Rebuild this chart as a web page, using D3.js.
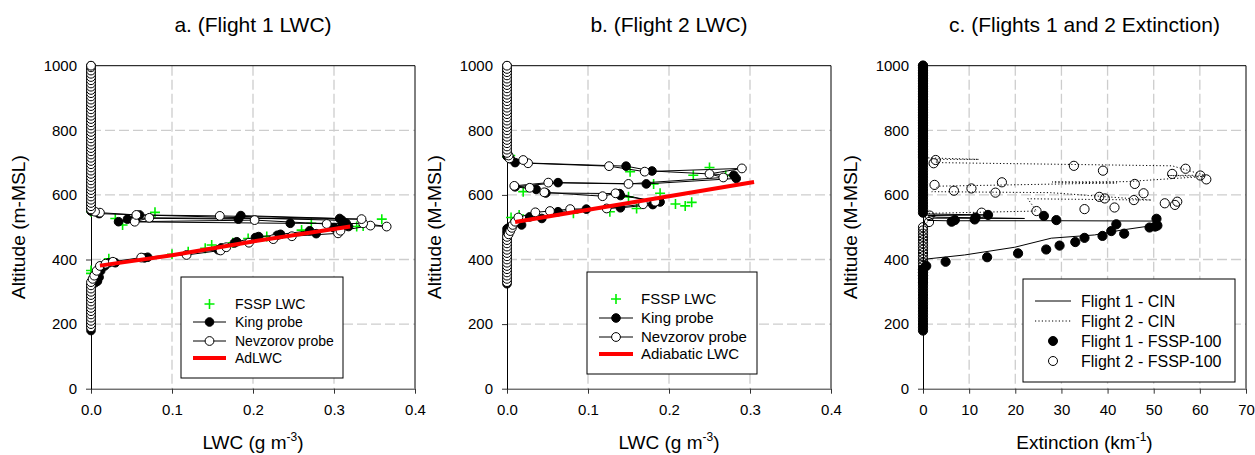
<!DOCTYPE html>
<html><head><meta charset="utf-8">
<script src="https://cdn.jsdelivr.net/npm/d3@7"></script>
<style>
body{margin:0;background:#fff}
svg{display:block}
text{font-family:"Liberation Sans",Arial,Helvetica,sans-serif;fill:#000}
</style>
</head><body>
<svg id="chart" width="1255" height="455"></svg>
<script>
// ---------- tick values ----------
const lwcTicks = [0, 0.1, 0.2, 0.3, 0.4];
const extTicks = [0, 10, 20, 30, 40, 50, 60, 70];
const altTicks = [0, 200, 400, 600, 800, 1000];

// ---------- titles / labels ----------
const titles = ["a. (Flight 1 LWC)", "b. (Flight 2 LWC)", "c. (Flights 1 and 2 Extinction)"];
const yLabels = ["Altitude (m-MSL)", "Altitude (M-MSL)", "Altitude (M-MSL)"];
const legendA = ["FSSP LWC", "King probe", "Nevzorov probe", "AdLWC"];
const legendB = ["FSSP LWC", "King probe", "Nevzorov probe", "Adiabatic LWC"];
const legendC = ["Flight 1 - CIN", "Flight 2 - CIN", "Flight 1 - FSSP-100", "Flight 2 - FSSP-100"];

// ---------- Panel a: Flight 1 LWC  [LWC g/m3, altitude m] ----------
const kingA = [
[0,180],[0,190],[0,200],[0,210],[0,220],[0,230],[0,240],[0,250],[0,260],[0,270],[0,280],[0,290],[0,300],[0,310],[0,320],
[0.005,328],[0.008,333],[0.010,345],[0.012,365],[0.017,380],[0.022,390],[0.030,390],[0.066,405],[0.070,407],
[0.157,430],[0.161,436],[0.177,451],[0.180,455],[0.203,468],[0.207,471],[0.230,475],[0.234,478],[0.270,489],
[0.278,480],[0.300,498],[0.310,505],[0.318,502],
[0.315,512],[0.246,512],[0.034,517],[0.045,525],[0.055,528],[0.182,525],[0.185,536],[0.307,527],[0.310,521],
[0.060,538],[0.010,542],
[0,550],[0,560],[0,570],[0,580],[0,590],[0,600],[0,610],[0,620],[0,630],[0,640],[0,650],[0,660],[0,670],[0,680],
[0,690],[0,700],[0,710],[0,720],[0,730],[0,740],[0,750],[0,760],[0,770],[0,780],[0,790],[0,800],[0,810],[0,820],
[0,830],[0,840],[0,850],[0,860],[0,870],[0,880],[0,890],[0,900],[0,910],[0,920],[0,930],[0,940],[0,950],[0,960],
[0,970],[0,980],[0,990],[0,1000]
];
const nevA = [
[0,190],[0,200],[0,210],[0,220],[0,230],[0,240],[0,250],[0,260],[0,270],[0,280],[0,290],[0,300],[0,310],[0,320],[0,330],
[0.002,340],[0.004,350],[0.007,365],[0.011,380],[0.018,387],[0.027,393],[0.062,406],[0.118,414],[0.160,428],
[0.167,438],[0.195,452],[0.225,463],[0.248,472],[0.305,481],[0.308,489],[0.345,505],[0.365,502],[0.336,512],
[0.291,510],[0.202,522],[0.054,517],[0.072,529],[0.334,525],[0.159,535],[0.056,538],[0.011,545],[0.005,548],
[0,555],[0,565],[0,575],[0,585],[0,595],[0,605],[0,615],[0,625],[0,635],[0,645],[0,655],[0,665],[0,675],[0,685],
[0,695],[0,705],[0,715],[0,725],[0,735],[0,745],[0,755],[0,765],[0,775],[0,785],[0,795],[0,805],[0,815],[0,825],
[0,835],[0,845],[0,855],[0,865],[0,875],[0,885],[0,895],[0,905],[0,915],[0,925],[0,935],[0,945],[0,955],[0,965],
[0,975],[0,985],[0,995],[0,1000]
];
const fsspA = [
[0,357],[0,366],[0.022,402],[0.100,416],[0.120,424],[0.141,435],[0.149,445],[0.175,452],[0.194,465],[0.217,471],
[0.260,491],[0.272,512],[0.328,502],[0.336,504],[0.359,525],[0.030,527],[0.039,507],[0.079,546],[0,548]
];
const adiabA = [[0.011,381],[0.100,413],[0.200,456],[0.320,502]];

// ---------- Panel b: Flight 2 LWC ----------
const kingB = [
[0,325],[0,335],[0,345],[0,355],[0,365],[0,375],[0,385],[0,395],[0,405],[0,415],[0,425],[0,435],[0,445],[0,455],
[0,465],[0,475],[0,485],[0,495],
[0.003,500],[0.018,507],[0.028,532],[0.043,527],[0.063,548],[0.098,556],[0.140,560],[0.180,570],[0.189,578],
[0.140,598],[0.139,604],[0.048,606],[0.036,617],[0.010,625],[0.063,638],[0.172,634],[0.283,651],[0.280,661],
[0.179,674],[0.147,689],[0.010,700],[0.004,712],
[0,720],[0,730],[0,740],[0,750],[0,760],[0,770],[0,780],[0,790],[0,800],[0,810],[0,820],[0,830],[0,840],[0,850],
[0,860],[0,870],[0,880],[0,890],[0,900],[0,910],[0,920],[0,930],[0,940],[0,950],[0,960],[0,970],[0,980],[0,990],[0,1000]
];
const nevB = [
[0,330],[0,340],[0,350],[0,360],[0,370],[0,380],[0,390],[0,400],[0,410],[0,420],[0,430],[0,440],[0,450],[0,460],[0,470],
[0.002,478],[0.004,488],[0.006,498],[0.007,507],[0.010,517],[0.014,530],[0.035,546],[0.053,550],[0.078,556],
[0.123,558],[0.168,571],[0.183,579],[0.134,605],[0.118,596],[0.046,608],[0.028,622],[0.009,628],[0.051,638],
[0.150,634],[0.267,654],[0.250,665],[0.290,682],[0.170,672],[0.126,689],[0.026,698],[0.020,708],[0.003,713],[0.002,722],
[0,730],[0,740],[0,750],[0,760],[0,770],[0,780],[0,790],[0,800],[0,810],[0,820],[0,830],[0,840],[0,850],[0,860],
[0,870],[0,880],[0,890],[0,900],[0,910],[0,920],[0,930],[0,940],[0,950],[0,960],[0,970],[0,980],[0,990],[0,1000]
];
const fsspB = [
[0,718],[0.004,722],[0.152,672],[0.230,661],[0.250,685],[0.270,660],[0.181,634],[0.189,605],[0.150,594],
[0.208,572],[0.220,566],[0.228,577],[0.160,558],[0.127,548],[0.082,543],[0.020,610],[0.015,538],[0.005,530]
];
const adiabB = [[0.010,516],[0.305,640]];

// ---------- Panel c: extinction [km-1, altitude m] ----------
const f1Fssp = [
[0,180],[0,190],[0,200],[0,210],[0,220],[0,230],[0,240],[0,250],[0,260],[0,270],[0,280],[0,290],[0,300],[0,310],
[0,320],[0,330],[0,340],[0,350],[0,360],[0,370],
[0.7,380],[4.9,393],[13.9,407],[20.6,419],[26.7,431],[29.6,443],[33.0,454],[35.0,467],[38.9,473],[40.8,488],
[41.9,509],[43.6,480],[49.1,499],[50.3,502],[50.8,505],[50.6,526],[6.2,517],[6.9,522],[11.2,524],[11.4,530],
[14.1,538],[26.2,535],[28.9,522],
[0,545],[0,555],[0,565],[0,575],[0,585],[0,595],[0,605],[0,615],[0,625],[0,635],[0,645],[0,655],[0,665],[0,675],
[0,685],[0,695],[0,705],[0,715],[0,725],[0,735],[0,745],[0,755],[0,765],[0,775],[0,785],[0,795],[0,805],[0,815],
[0,825],[0,835],[0,845],[0,855],[0,865],[0,875],[0,885],[0,895],[0,905],[0,915],[0,925],[0,935],[0,945],[0,955],
[0,965],[0,975],[0,985],[0,995],[0,1000]
];
const f2Fssp = [
[0,330],[0,340],[0,350],[0,360],[0,370],[0,380],[0,390],[0,400],[0,410],[0,420],[0,430],[0,440],[0,450],[0,460],
[0,470],[0,480],[0,490],[0,500],
[1.3,516],[1.45,536],[12.7,545],[24.6,550],[35.0,556],[41.5,561],[52.4,574],[54.6,569],[55.1,579],[45.7,584],
[38.2,594],[39.4,589],[47.8,605],[15.7,607],[6.7,613],[10.5,620],[2.5,631],[17.1,639],[45.9,634],[61.4,648],
[60.1,660],[54.0,665],[56.9,681],[39.0,675],[32.7,690],[2.3,698],[2.75,708],
[0,720],[0,730],[0,740],[0,750],[0,760],[0,770],[0,780],[0,790],[0,800],[0,810],[0,820],[0,830],[0,840],[0,850],
[0,860],[0,870],[0,880],[0,890],[0,900],[0,910],[0,920],[0,930],[0,940],[0,950],[0,960],[0,970],[0,980],[0,990],[0,1000]
];
const f1Cin = [
[0,180],[0,393],[1.1,402],[9,414],[19.9,438],[27.8,466],[37.2,476],[43,491],[50.2,506],[50.6,519],[30,520],
[5,520],[1,521],[2,528],[22,527],[3,531],[1,536],[14,538],[0,541],[0,1000]
];
const f2Cin = [
[0,330],[0,505],[1.3,520],[1.3,543],[24.6,550],[22.7,588],[49.5,584],[27.6,607],[1.9,610],[3.3,627],[42,637],
[28,640],[44,641],[61,657],[53,660],[61,661],[54,690],[2.9,700],[2.9,710],[12.1,710],[0,715],[0,1000]
];

// ---------- drawing ----------
const svg = d3.select("#chart");
const TOP = 65.7, BOTTOM = 388.7;
const FONT = '"Liberation Sans",Arial,Helvetica,sans-serif';

function makePanel(o) {
  const g = svg.append("g");
  const x = d3.scaleLinear().domain(o.xDomain).range([o.left, o.right]);
  const y = d3.scaleLinear().domain([0, 1000]).range([BOTTOM, TOP]);

  // dashed grid
  g.selectAll(".gx").data(o.xTicks.filter(t => t > o.xDomain[0] && t < o.xDomain[1])).join("line")
    .attr("x1", d => x(d)).attr("x2", d => x(d)).attr("y1", TOP).attr("y2", BOTTOM)
    .attr("stroke", "#cdcdcd").attr("stroke-width", 1.3).attr("stroke-dasharray", "10,4");
  g.selectAll(".gy").data(altTicks.filter(t => t > 0 && t < 1000)).join("line")
    .attr("x1", o.left).attr("x2", o.right).attr("y1", d => y(d)).attr("y2", d => y(d))
    .attr("stroke", "#cdcdcd").attr("stroke-width", 1.3).attr("stroke-dasharray", "10,4");

  // frame top/right
  g.append("path").attr("d", `M${o.left},${TOP}H${o.right}V${BOTTOM}`)
    .attr("fill", "none").attr("stroke", "#000").attr("stroke-width", 1);

  // axes
  const ax = g.append("g").attr("transform", `translate(0,${BOTTOM})`)
    .call(d3.axisBottom(x).tickValues(o.xTicks).tickSize(5).tickPadding(11).tickSizeOuter(0).tickFormat(o.xFmt));
  const ay = g.append("g").attr("transform", `translate(${o.left},0)`)
    .call(d3.axisLeft(y).tickValues(altTicks).tickSize(5).tickPadding(9).tickSizeOuter(0).tickFormat(d3.format("d")));
  [ax, ay].forEach(a => {
    a.selectAll("text").attr("font-size", 15).attr("font-family", FONT).attr("fill", "#000");
    a.selectAll("line").attr("stroke", "#333");
    a.select(".domain").attr("stroke", "#333");
  });
  ay.select(".domain").attr("stroke", "#000");

  // title
  g.append("text").attr("x", (o.left + o.right) / 2).attr("y", 32).attr("text-anchor", "middle")
    .attr("font-size", 21).text(o.title);
  // y label
  g.append("text").attr("transform", `translate(${o.left - 73},${(TOP + BOTTOM) / 2}) rotate(-90)`)
    .attr("text-anchor", "middle").attr("dy", "0.35em").attr("font-size", 19.2).text(o.yLabel);
  // x label with superscript
  const xl = g.append("text").attr("x", (o.left + o.right) / 2).attr("y", 449).attr("text-anchor", "middle")
    .attr("font-size", 19);
  xl.append("tspan").text(o.xLabel[0]);
  xl.append("tspan").attr("font-size", 12).attr("dy", -8).text(o.xLabel[1]);
  xl.append("tspan").attr("dy", 8).text(o.xLabel[2]);

  return {g, x, y};
}

const line = (x, y) => d3.line().x(d => x(d[0])).y(d => y(d[1]));

function plus(g, x, y, data, s) {
  g.append("g").selectAll("path").data(data).join("path")
    .attr("d", d => `M${x(d[0]) - s},${y(d[1])}h${2 * s}M${x(d[0])},${y(d[1]) - s}v${2 * s}`)
    .attr("stroke", "#00f000").attr("stroke-width", 1.6).attr("fill", "none");
}
function circles(g, x, y, data, r, fill) {
  g.append("g").selectAll("circle").data(data).join("circle")
    .attr("cx", d => x(d[0])).attr("cy", d => y(d[1])).attr("r", r)
    .attr("fill", fill).attr("stroke", "#000").attr("stroke-width", 1);
}
function path(g, x, y, data, color, w, dash) {
  g.append("path").datum(data).attr("d", line(x, y)).attr("fill", "none")
    .attr("stroke", color).attr("stroke-width", w).attr("stroke-dasharray", dash || null);
}

function lwcPanel(o, king, nev, fssp, adiab, legend, lg) {
  const {g, x, y} = makePanel(o);
  plus(g, x, y, fssp, 5);
  path(g, x, y, king, "#000", 1);
  circles(g, x, y, king, 4.3, "#000");
  path(g, x, y, nev, "#000", 1);
  circles(g, x, y, nev, 4.4, "#fff");
  path(g, x, y, adiab, "#ff0000", 4);

  // legend
  const L = g.append("g");
  L.append("rect").attr("x", lg.x0).attr("y", lg.y0).attr("width", lg.x1 - lg.x0).attr("height", lg.y1 - lg.y0)
    .attr("fill", "#fff").attr("stroke", "#000").attr("stroke-width", 1);
  legend.forEach((t, i) => {
    const yy = lg.rows[i];
    L.append("text").attr("x", lg.tx).attr("y", yy).attr("dy", "0.35em").attr("font-size", lg.fs).text(t);
  });
  const sx = (lg.l0 + lg.l1) / 2;
  L.append("path").attr("d", `M${sx - 5},${lg.rows[0]}h10M${sx},${lg.rows[0] - 5}v10`)
    .attr("stroke", "#00f000").attr("stroke-width", 1.6);
  L.append("line").attr("x1", lg.l0).attr("x2", lg.l1).attr("y1", lg.rows[1]).attr("y2", lg.rows[1]).attr("stroke", "#000");
  L.append("circle").attr("cx", sx).attr("cy", lg.rows[1]).attr("r", 4.3).attr("fill", "#000").attr("stroke", "#000");
  L.append("line").attr("x1", lg.l0).attr("x2", lg.l1).attr("y1", lg.rows[2]).attr("y2", lg.rows[2]).attr("stroke", "#000");
  L.append("circle").attr("cx", sx).attr("cy", lg.rows[2]).attr("r", 4.4).attr("fill", "#fff").attr("stroke", "#000");
  L.append("line").attr("x1", lg.l0).attr("x2", lg.l1).attr("y1", lg.rows[3]).attr("y2", lg.rows[3])
    .attr("stroke", "#ff0000").attr("stroke-width", 4);
}

const lwcFmt = d3.format(".1f");
lwcPanel({left: 91, right: 415, xDomain: [0, 0.4], xTicks: lwcTicks, xFmt: lwcFmt,
  title: titles[0], yLabel: yLabels[0], xLabel: ["LWC (g m", "-3", ")"]},
  kingA, nevA, fsspA, adiabA, legendA,
  {x0: 181, x1: 343, y0: 277, y1: 378, rows: [304, 322, 341, 358], l0: 193, l1: 226, tx: 235, fs: 14});

lwcPanel({left: 507, right: 831, xDomain: [0, 0.4], xTicks: lwcTicks, xFmt: lwcFmt,
  title: titles[1], yLabel: yLabels[1], xLabel: ["LWC (g m", "-3", ")"]},
  kingB, nevB, fsspB, adiabB, legendB,
  {x0: 587, x1: 757, y0: 272, y1: 374, rows: [299, 318, 337, 354], l0: 599, l1: 633, tx: 641, fs: 15});

// Panel c
(function () {
  const o = {left: 923, right: 1246, xDomain: [0, 70], xTicks: extTicks, xFmt: d3.format("d"),
    title: titles[2], yLabel: yLabels[2], xLabel: ["Extinction (km", "-1", ")"]};
  const {g, x, y} = makePanel(o);
  path(g, x, y, f2Cin, "#000", 1, "1.2,2.2");
  circles(g, x, y, f2Fssp, 4.6, "none");
  path(g, x, y, f1Cin, "#000", 1);
  circles(g, x, y, f1Fssp, 4.6, "#000");

  const lg = {x0: 1023, x1: 1235, y0: 279, y1: 382, rows: [301, 321, 341, 361], l0: 1035, l1: 1071, tx: 1081, fs: 16};
  const L = g.append("g");
  L.append("rect").attr("x", lg.x0).attr("y", lg.y0).attr("width", lg.x1 - lg.x0).attr("height", lg.y1 - lg.y0)
    .attr("fill", "#fff").attr("stroke", "#000").attr("stroke-width", 1);
  legendC.forEach((t, i) => {
    L.append("text").attr("x", lg.tx).attr("y", lg.rows[i]).attr("dy", "0.35em").attr("font-size", lg.fs).text(t);
  });
  const sx = (lg.l0 + lg.l1) / 2;
  L.append("line").attr("x1", lg.l0).attr("x2", lg.l1).attr("y1", lg.rows[0]).attr("y2", lg.rows[0]).attr("stroke", "#000");
  L.append("line").attr("x1", lg.l0).attr("x2", lg.l1).attr("y1", lg.rows[1]).attr("y2", lg.rows[1])
    .attr("stroke", "#000").attr("stroke-dasharray", "1.2,2.2");
  L.append("circle").attr("cx", sx).attr("cy", lg.rows[2]).attr("r", 4.5).attr("fill", "#000").attr("stroke", "#000");
  L.append("circle").attr("cx", sx).attr("cy", lg.rows[3]).attr("r", 4.5).attr("fill", "#fff").attr("stroke", "#000");
})();
</script>
</body></html>
